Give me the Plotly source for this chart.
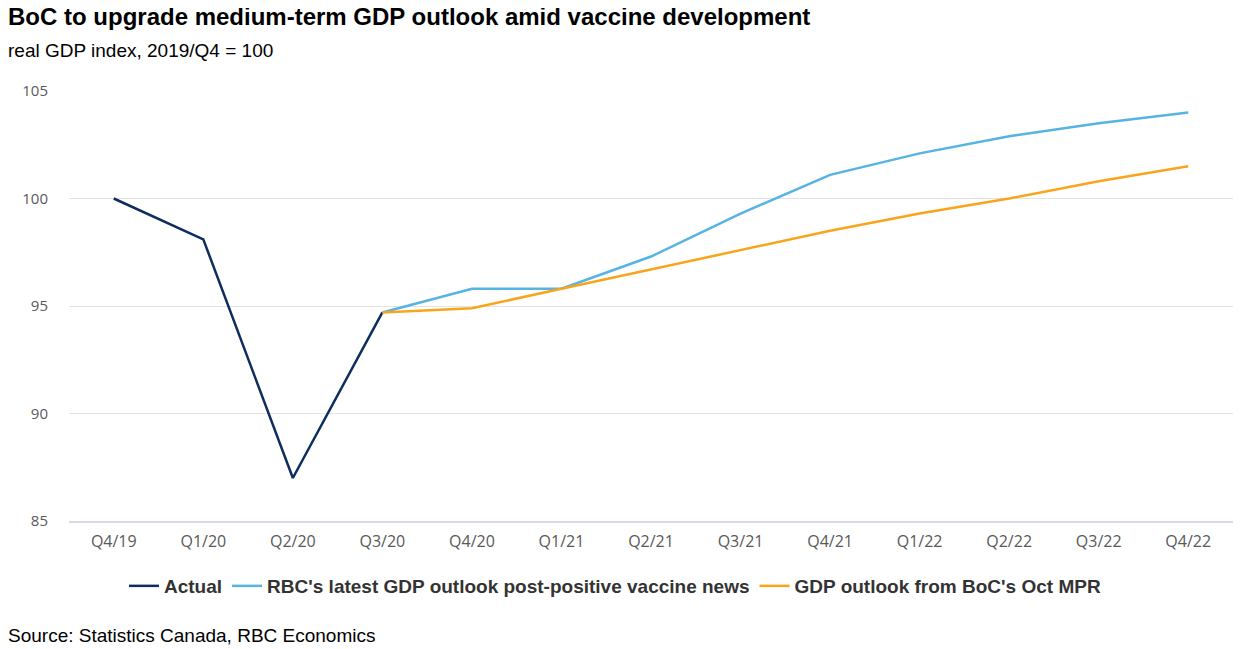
import plotly.graph_objects as go

quarters = ["Q4/19", "Q1/20", "Q2/20", "Q3/20", "Q4/20", "Q1/21", "Q2/21",
            "Q3/21", "Q4/21", "Q1/22", "Q2/22", "Q3/22", "Q4/22"]
actual = [100.0, 98.1, 87.0, 94.7, None, None, None, None, None, None, None, None, None]
rbc = [None, None, None, 94.7, 95.8, 95.8, 97.3, 99.3, 101.1, 102.1, 102.9, 103.5, 104.0]
boc = [None, None, None, 94.7, 94.9, 95.8, 96.7, 97.6, 98.5, 99.3, 100.0, 100.8, 101.5]
y_ticks = [85, 90, 95, 100, 105]

# page body has an 8px margin; work in reference-pixel coordinates and shift
OFF = 8
W, H = 1241 - OFF, 649 - OFF
L, R = 69 - OFF, 1241 - 1233
T, B = 91 - OFF, 649 - 521
ph = H - T - B
pw = W - L - R

def py(ref_pix):
    return (H - B - (ref_pix - OFF)) / ph

def px(ref_pix):
    return ((ref_pix - OFF) - L) / pw

fig = go.Figure()
fig.add_trace(go.Scatter(x=quarters, y=actual, mode="lines", name="Actual",
                         line=dict(color="#0c2d5e", width=2.5)))
fig.add_trace(go.Scatter(x=quarters, y=rbc, mode="lines",
                         name="RBC's latest GDP outlook post-positive vaccine news",
                         line=dict(color="#56b3e2", width=2.5)))
fig.add_trace(go.Scatter(x=quarters, y=boc, mode="lines",
                         name="GDP outlook from BoC's Oct MPR",
                         line=dict(color="#f8a51c", width=2.5)))

fig.update_layout(
    width=W, height=H,
    margin=dict(l=L, r=R, t=T, b=B, autoexpand=False),
    paper_bgcolor="white", plot_bgcolor="white",
    title=dict(text="<b>BoC to upgrade medium-term GDP outlook amid vaccine development</b>",
               xref="container", yref="container", x=0, xanchor="left",
               y=1, yanchor="top", pad=dict(t=0, b=0, l=0, r=0),
               font=dict(family="Liberation Sans, Arial", size=24, color="#000000")),
    showlegend=True,
    legend=dict(orientation="h", x=px(615), xanchor="center", y=py(586), yanchor="middle",
                font=dict(family="Liberation Sans, Arial", size=19, color="#333333",
                          weight="bold"),
                itemwidth=30, tracegroupgap=0, bgcolor="rgba(0,0,0,0)"),
    annotations=[
        dict(text="real GDP index, 2019/Q4 = 100", xref="paper", yref="paper",
             x=px(6), y=py(50), xanchor="left", yanchor="middle", showarrow=False,
             font=dict(family="Liberation Sans, Arial", size=19, color="#000000")),
        dict(text="Source: Statistics Canada, RBC Economics", xref="paper", yref="paper",
             x=px(6), y=py(635), xanchor="left", yanchor="middle", showarrow=False,
             font=dict(family="Liberation Sans, Arial", size=19, color="#000000")),
    ],
)

fig.update_xaxes(type="category", range=[-0.5, len(quarters) - 0.5],
                 showgrid=False, showline=True, linecolor="#d6dae6", linewidth=2,
                 ticks="", ticklabelstandoff=5,
                 tickfont=dict(family="Open Sans", size=16, color="#595959"),
                 zeroline=False, fixedrange=True)
fig.update_yaxes(range=[85, 105], tickvals=y_ticks, showgrid=True,
                 gridcolor="#e3e3e3", gridwidth=1, showline=False, zeroline=False,
                 ticks="", ticklabelstandoff=20,
                 tickfont=dict(family="Open Sans", size=15, color="#595959"),
                 fixedrange=True)

fig.write_html("out.html")
